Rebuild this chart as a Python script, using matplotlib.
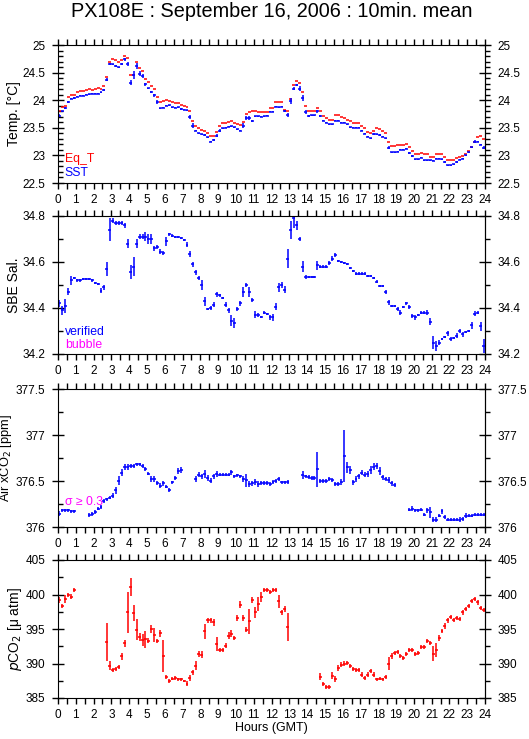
import numpy as np
import matplotlib.pyplot as plt
from matplotlib.ticker import MultipleLocator, FormatStrFormatter

plt.rcParams['font.family'] = ['Liberation Sans', 'DejaVu Sans']

nan = np.nan

# 10-min means, one row per hour (0..23), six values per row
eq_t = [
    [23.80, 23.87, 23.90, 24.05, 24.10, 24.10],
    [24.15, 24.16, 24.17, 24.19, 24.20, 24.19],
    [24.20, 24.22, 24.20, 24.26, 24.42, 24.70],
    [24.74, 24.72, 24.70, 24.72, 24.80, 24.76],
    [24.45, 24.45, 24.70, 24.58, 24.52, 24.38],
    [24.33, 24.25, 24.20, 24.06, 23.97, 23.98],
    [24.00, 23.99, 23.97, 23.95, 23.95, 23.92],
    [23.90, 23.88, 23.80, 23.62, 23.53, 23.49],
    [23.46, 23.45, 23.40, 23.35, 23.35, 23.42],
    [23.53, 23.58, 23.58, 23.60, 23.62, 23.58],
    [23.56, 23.55, 23.60, 23.75, 23.78, 23.80],
    [23.80, 23.79, 23.79, 23.78, 23.78, 23.86],
    [23.86, 23.96, 23.96, 23.96, 23.82, 23.80],
    [24.02, 24.28, 24.35, 24.32, 24.15, 23.90],
    [23.80, 23.80, 23.80, 23.86, 23.80, 23.72],
    [23.68, 23.65, 23.65, 23.73, 23.73, 23.70],
    [23.68, 23.65, 23.62, 23.59, 23.59, 23.59],
    [23.53, 23.50, 23.42, 23.40, 23.45, 23.50],
    [23.48, 23.45, 23.41, 23.24, 23.17, 23.17],
    [23.18, 23.19, 23.19, 23.21, 23.16, 23.08],
    [23.03, 23.02, 23.04, 23.02, 23.02, 22.98],
    [22.98, 23.02, 23.02, 23.02, 22.97, 22.91],
    [22.91, 22.91, 22.95, 22.98, 22.99, 23.02],
    [23.08, 23.16, 23.24, 23.33, 23.35, 23.30],
]
sst = [
    [23.72, 23.80, 23.86, 23.97, 24.03, 24.04],
    [24.06, 24.08, 24.08, 24.10, 24.11, 24.12],
    [24.12, 24.12, 24.14, 24.19, 24.37, 24.65],
    [24.65, 24.62, 24.60, 24.66, 24.74, 24.66],
    [24.32, 24.45, 24.62, 24.48, 24.44, 24.29],
    [24.22, 24.15, 24.09, 23.97, 23.85, 23.86],
    [23.90, 23.91, 23.87, 23.86, 23.87, 23.84],
    [23.83, 23.82, 23.70, 23.54, 23.45, 23.40],
    [23.38, 23.37, 23.33, 23.25, 23.28, 23.36],
    [23.45, 23.49, 23.50, 23.52, 23.53, 23.51],
    [23.47, 23.45, 23.54, 23.68, 23.68, 23.62],
    [23.71, 23.71, 23.70, 23.71, 23.72, 23.79],
    [23.79, 23.88, 23.87, 23.88, 23.80, 23.73],
    [23.99, 24.21, 24.27, 24.21, 24.04, 23.79],
    [23.71, 23.73, 23.73, 23.80, 23.71, 23.63],
    [23.59, 23.56, 23.56, 23.63, 23.63, 23.59],
    [23.59, 23.56, 23.51, 23.50, 23.50, 23.50],
    [23.45, 23.39, 23.34, 23.31, 23.39, 23.38],
    [23.37, 23.34, 23.31, 23.14, 23.06, 23.06],
    [23.07, 23.10, 23.10, 23.12, 23.04, 22.99],
    [22.93, 22.93, 22.96, 22.91, 22.91, 22.91],
    [22.90, 22.94, 22.94, 22.93, 22.88, 22.82],
    [22.82, 22.84, 22.88, 22.92, 22.94, 23.00],
    [23.06, 23.15, 23.25, 23.25, 23.19, 23.14],
]
sst_sd = [
    [.03, .01, .025, .015, .01, .01],
    [.01, .01, .01, .01, .01, .01],
    [.01, .01, .01, .02, .03, .02],
    [.01, .01, .01, .02, .03, .04],
    [.05, .07, .05, .04, .03, .03],
    [.01, .02, .03, .04, .01, .01],
    [.01, .01, .01, .01, .01, .01],
    [.01, .01, .04, .04, .01, .01],
    [.01, .01, .01, .01, .02, .02],
    [.03, .01, .01, .01, .01, .01],
    [.01, .01, .04, .03, .03, .02],
    [.01, .01, .01, .01, .01, .01],
    [.01, .01, .01, .01, .02, .03],
    [.05, .03, .02, .04, .05, .04],
    [.02, .01, .01, .03, .02, .01],
    [.01, .01, .01, .01, .01, .01],
    [.01, .01, .01, .01, .01, .01],
    [.01, .01, .01, .01, .02, .01],
    [.01, .01, .01, .03, .01, .01],
    [.01, .01, .01, .01, .02, .01],
    [.01, .01, .01, .01, .01, .01],
    [.01, .01, .01, .01, .02, .01],
    [.01, .01, .01, .01, .01, .01],
    [.01, .01, .03, .01, .01, .03],
]
sal = [
    [34.420, 34.390, 34.410, 34.470, 34.520, 34.530],
    [34.520, 34.520, 34.525, 34.525, 34.525, 34.520],
    [34.510, 34.505, 34.475, 34.490, 34.570, 34.740],
    [34.780, 34.770, 34.770, 34.770, 34.760, 34.680],
    [34.555, 34.580, 34.680, 34.710, 34.710, 34.710],
    [34.700, 34.700, 34.660, 34.665, 34.645, 34.640],
    [34.690, 34.720, 34.715, 34.710, 34.710, 34.705],
    [34.695, 34.675, 34.635, 34.590, 34.555, 34.530],
    [34.500, 34.430, 34.395, 34.400, 34.415, 34.460],
    [34.455, 34.445, 34.415, 34.390, 34.345, 34.335],
    [34.395, 34.420, 34.470, 34.500, 34.470, 34.435],
    [34.370, 34.370, 34.360, 34.380, 34.375, 34.360],
    [34.360, 34.405, 34.490, 34.500, 34.480, 34.615],
    [34.740, 34.790, 34.760, 34.700, 34.580, 34.535],
    [34.535, 34.535, 34.535, 34.585, 34.580, 34.580],
    [34.580, 34.595, 34.615, 34.630, 34.605, 34.600],
    [34.595, 34.590, 34.575, 34.560, 34.550, 34.550],
    [34.550, 34.550, 34.540, 34.540, 34.530, 34.515],
    [34.495, 34.495, 34.470, 34.425, 34.410, 34.410],
    [34.395, 34.380, 34.405, 34.420, 34.405, 34.365],
    [34.360, 34.370, 34.380, 34.380, 34.380, 34.340],
    [34.250, 34.235, 34.250, 34.265, 34.275, 34.290],
    [34.265, 34.270, 34.280, 34.300, 34.285, 34.295],
    [34.300, 34.325, 34.375, 34.380, 34.320, 34.235],
]
sal_sd = [
    [.015, .02, .03, .015, .02, .005],
    [.005, .005, .005, .005, .005, .005],
    [.005, .005, .01, .01, .03, .05],
    [.01, .01, .01, .01, .01, .02],
    [.03, .04, .02, .01, .01, .02],
    [.02, .02, .01, .01, .01, .01],
    [.02, .005, .005, .005, .005, .005],
    [.005, .01, .015, .01, .01, .01],
    [.02, .02, .005, .01, .01, .01],
    [.005, .005, .01, .01, .025, .02],
    [.01, .01, .02, .01, .02, .01],
    [.015, .01, .005, .005, .005, .01],
    [.015, .015, .02, .015, .015, .04],
    [.04, .04, .02, .01, .025, .01],
    [.005, .005, .005, .02, .005, .005],
    [.005, .01, .01, .01, .005, .005],
    [.005, .005, .005, .005, .005, .005],
    [.005, .005, .005, .005, .005, .005],
    [.005, .005, .01, .01, .005, .005],
    [.01, .01, .005, .005, .01, .01],
    [.01, .005, .005, .005, .01, .015],
    [.03, .02, .01, .005, .005, .01],
    [.01, .005, .01, .01, .01, .005],
    [.005, .015, .01, .005, .02, .03],
]
air_xco2 = [
    [376.145, 376.18, 376.18, 376.18, 376.17, 376.17],
    [nan, nan, nan, nan, 376.13, 376.145],
    [376.16, 376.20, 376.22, 376.28, 376.30, 376.32],
    [376.34, 376.40, 376.505, 376.59, 376.65, 376.65],
    [376.66, 376.66, 376.68, 376.68, 376.665, 376.63],
    [376.58, 376.52, 376.52, 376.475, 376.45, 376.475],
    [376.44, 376.40, 376.485, 376.53, 376.61, 376.62],
    [nan, nan, nan, nan, 376.52, 376.57],
    [376.55, 376.575, 376.53, 376.505, 376.55, 376.575],
    [376.57, 376.57, 376.57, 376.57, 376.595, 376.55],
    [376.56, 376.55, 376.52, 376.51, 376.47, 376.475],
    [376.49, 376.47, 376.475, 376.475, 376.475, 376.47],
    [376.49, 376.50, 376.52, 376.485, 376.485, 376.49],
    [nan, nan, nan, nan, 376.565, 376.55],
    [376.54, 376.53, 376.53, 376.63, 376.50, 376.50],
    [376.50, 376.52, 376.51, 376.47, 376.47, 376.49],
    [376.77, 376.65, 376.62, 376.485, 376.52, 376.55],
    [376.59, 376.57, 376.575, 376.62, 376.655, 376.665],
    [376.61, 376.54, 376.52, 376.51, 376.475, 376.455],
    [nan, nan, nan, nan, 376.19, 376.20],
    [376.18, 376.18, 376.19, 376.135, 376.18, 376.16],
    [376.08, 376.08, 376.125, 376.17, 376.11, 376.08],
    [376.08, 376.08, 376.08, 376.08, 376.09, 376.125],
    [376.125, 376.125, 376.135, 376.135, 376.135, 376.135],
]
air_sd = [
    [.03, .02, .02, .02, .02, .02],
    [.02, .02, .02, .02, .02, .02],
    [.02, .02, .02, .02, .02, .02],
    [.03, .04, .05, .04, .03, .03],
    [.02, .02, .02, .02, .02, .02],
    [.02, .03, .03, .02, .03, .03],
    [.02, .02, .02, .02, .03, .03],
    [.02, .02, .02, .02, .03, .03],
    [.03, .04, .03, .03, .03, .03],
    [.02, .02, .02, .02, .03, .02],
    [.02, .02, .03, .07, .03, .03],
    [.03, .03, .02, .02, .02, .02],
    [.02, .02, .02, .02, .02, .02],
    [.02, .02, .02, .02, .04, .02],
    [.02, .02, .02, .19, .02, .02],
    [.02, .02, .02, .02, .02, .03],
    [.28, .06, .04, .03, .03, .03],
    [.03, .03, .03, .04, .04, .03],
    [.04, .03, .02, .03, .03, .02],
    [.02, .02, .02, .02, .02, .03],
    [.02, .02, .02, .02, .03, .06],
    [.03, .03, .02, .03, .02, .02],
    [.02, .02, .02, .03, .02, .03],
    [.02, .02, .02, .02, .02, .02],
]
pco2 = [
    [399.2, 398.3, 399.3, 399.95, 399.7, 400.6],
    [nan, nan, nan, nan, nan, nan],
    [nan, nan, nan, nan, 393.1, 389.7],
    [389.1, 389.2, 389.5, 391.05, 392.9, 397.4],
    [401.1, 397.3, 394.9, 393.8, 393.4, 393.5],
    [393.3, 394.95, 394.15, 393.3, 394.4, 391.05],
    [388.05, 387.45, 387.8, 387.9, 387.7, 387.7],
    [387.45, 387.1, 387.9, 388.7, 389.7, 391.4],
    [391.3, 394.65, 396.25, 396.25, 395.95, 392.8],
    [391.9, 391.9, 392.6, 394.05, 394.3, 393.7],
    [396.6, 398.5, 396.6, 394.9, 396.1, 399.2],
    [397.4, 398.65, 399.6, 400.65, 400.6, 400.35],
    [400.6, 400.65, 399.0, 397.4, 397.9, 395.3],
    [nan, nan, nan, nan, nan, nan],
    [nan, nan, nan, nan, 388.1, 387.0],
    [386.6, 386.6, 388.2, 387.75, 389.35, 389.85],
    [390.0, 390.1, 389.7, 389.25, 389.1, 389.1],
    [388.4, 387.9, 388.4, 388.9, 388.4, 387.7],
    [387.8, 387.7, 388.05, 390.0, 391.05, 391.5],
    [391.65, 391.1, 390.8, 391.35, 391.9, 391.9],
    [391.35, 391.5, 392.4, 392.35, 393.2, 392.95],
    [391.4, 392.0, 393.7, 394.65, 395.4, 396.25],
    [396.8, 396.35, 396.6, 396.45, 397.4, 397.9],
    [398.35, 399.0, 399.3, 398.85, 398.1, 397.8],
]
pco2_sd = [
    [.4, .3, .6, .3, .4, .3],
    [.3, .3, .3, .3, .3, .3],
    [.3, .3, .3, .3, 2.8, .6],
    [.3, .3, .3, .5, .5, 3.0],
    [1.3, 1.2, 1.5, .6, .9, 1.2],
    [.4, .6, 1.0, .3, .5, 2.3],
    [.3, .3, .2, .3, .2, .2],
    [.2, .3, .5, .3, .6, .4],
    [.5, 1.1, .4, .4, .5, 1.0],
    [.3, .3, .4, .5, .5, .3],
    [.5, .5, .5, .4, 1.8, .4],
    [.8, 1.0, .7, .3, .3, .3],
    [.3, .3, 1.0, .3, .5, 2.0],
    [.3, .3, .3, .3, .3, .3],
    [.3, .3, .3, .3, .5, .3],
    [.3, .3, .5, .5, .4, .3],
    [.3, .3, .3, .3, .3, .3],
    [.4, .3, .3, .3, .4, .2],
    [.2, .2, .3, 1.0, .4, .3],
    [.3, .3, .3, .3, .3, .3],
    [.3, .3, .3, .3, .3, .3],
    [1.1, 1.0, .4, .3, .4, .4],
    [.3, .3, .3, .3, .3, .3],
    [.3, .3, .3, .3, .3, .3],
]

hours = (np.arange(144) + 0.5) / 6.0
half = 1.0 / 12.0

BLUE = '#0000ff'
RED = '#ff0000'
MAGENTA = '#ff00ff'

fig = plt.figure(figsize=(5.29, 7.39), dpi=100)
left, width = 58 / 529, 427 / 529
tops = [45, 216, 389, 560]
axes = []
for top in tops:
    ax = fig.add_axes([left, 1 - (top + 138) / 739, width, 138 / 739])
    axes.append(ax)


def errbars(ax, y, sd, color):
    y = np.ravel(y)
    ok = ~np.isnan(y)
    ax.errorbar(hours[ok], y[ok], xerr=half, yerr=np.ravel(sd)[ok],
                fmt='none', ecolor=color, elinewidth=1.1, capsize=0)


def note(ax, y, s, color):
    ax.text(0.016, y, s, color=color, transform=ax.transAxes,
            va='center', fontsize=8.8)


# Temperature
ax1 = axes[0]
ax1.errorbar(hours, np.ravel(eq_t), xerr=half, fmt='none', ecolor=RED,
             elinewidth=1.1, capsize=0)
errbars(ax1, sst, sst_sd, BLUE)
ax1.set_ylim(22.5, 25)
ax1.set_ylabel('Temp. [°C]', fontsize=10)
note(ax1, 0.175, 'Eq_T', RED)
note(ax1, 0.073, 'SST', BLUE)

# Salinity
ax2 = axes[1]
errbars(ax2, sal, sal_sd, BLUE)
ax2.set_ylim(34.2, 34.8)
ax2.set_ylabel('SBE Sal.', fontsize=10)
note(ax2, 0.16, 'verified', BLUE)
note(ax2, 0.065, 'bubble', MAGENTA)

# Air xCO2
ax3 = axes[2]
errbars(ax3, air_xco2, air_sd, BLUE)
ax3.set_ylim(376, 377.5)
ax3.set_ylabel('Air xCO$_2$ [ppm]', fontsize=9.3)
note(ax3, 0.18, 'σ ≥ 0.3', MAGENTA)

# pCO2
ax4 = axes[3]
errbars(ax4, pco2, pco2_sd, RED)
ax4.set_ylim(385, 405)
ax4.set_ylabel('$p$CO$_2$ [μ atm]', fontsize=10)
ax4.set_xlabel('Hours (GMT)', fontsize=9, labelpad=1)

steps = [(0.5, 0.1), (0.2, 0.1), (0.5, 0.25), (5, 2.5)]
for ax, (major, minor) in zip(axes, steps):
    ax.set_xlim(0, 24)
    ax.xaxis.set_major_locator(MultipleLocator(1))
    ax.xaxis.set_minor_locator(MultipleLocator(0.5))
    ax.tick_params(axis='x', which='both', direction='out', top=True,
                   length=4, width=1, pad=4, labelsize=8.5)
    ax.yaxis.set_major_locator(MultipleLocator(major))
    ax.yaxis.set_minor_locator(MultipleLocator(minor))
    ax.yaxis.set_major_formatter(FormatStrFormatter('%g'))
    ax.tick_params(axis='y', which='major', direction='inout', length=8,
                   width=1, pad=5, labelsize=8.5, right=False)
    ax.tick_params(axis='y', which='minor', direction='in', length=3.5,
                   width=1, right=False)
    ax.yaxis.labelpad = 1
    # right-hand axis repeats the scale with outward minor ticks
    sec = ax.secondary_yaxis('right')
    sec.yaxis.set_major_locator(MultipleLocator(major))
    sec.yaxis.set_minor_locator(MultipleLocator(minor))
    sec.yaxis.set_major_formatter(FormatStrFormatter('%g'))
    sec.tick_params(which='major', direction='inout', length=8, width=1,
                    pad=5, labelsize=8.5)
    sec.tick_params(which='minor', direction='out', length=3.5, width=1)

fig.text(left + width / 2, 0.984, 'PX108E : September 16, 2006 : 10min. mean',
         ha='center', va='center', fontsize=14.3)

fig.savefig('out.png', dpi=100)
